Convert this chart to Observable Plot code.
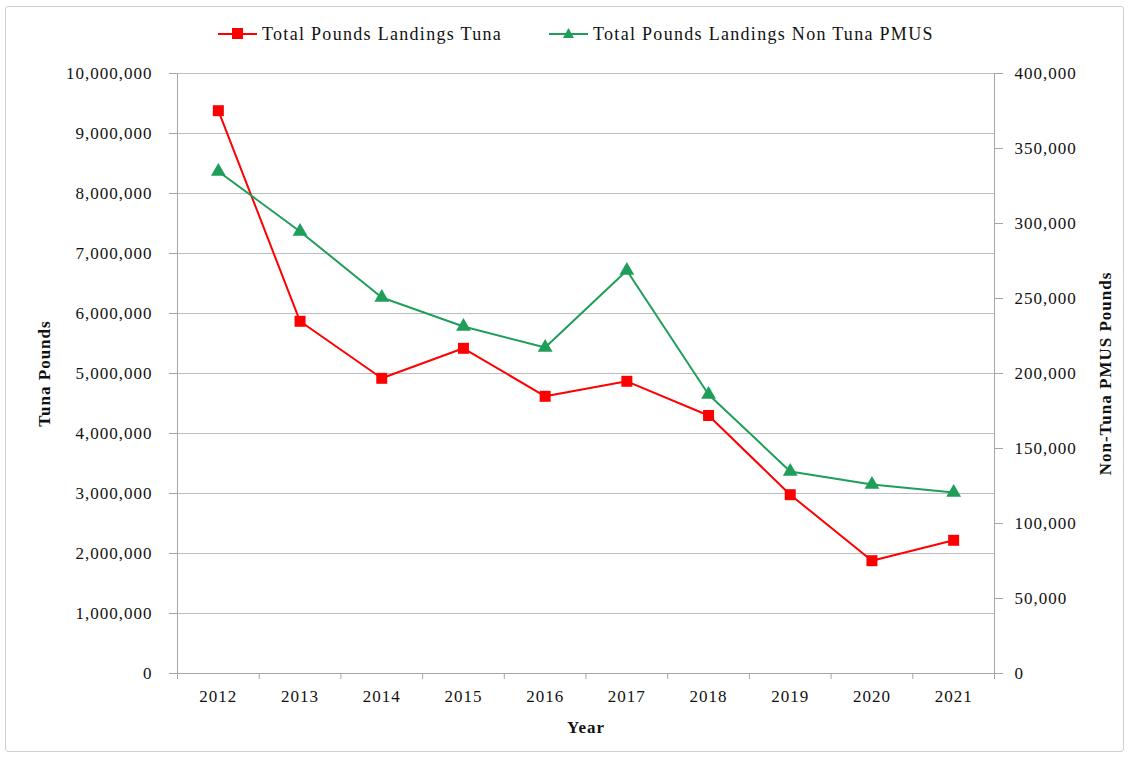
<!DOCTYPE html>
<html>
<head>
<meta charset="utf-8">
<script src="https://cdn.jsdelivr.net/npm/d3@7"></script>
<script src="https://cdn.jsdelivr.net/npm/@observablehq/plot@0.6"></script>
<style>
  html, body { margin: 0; padding: 0; background: #fff; }
  #wrap { position: relative; width: 1130px; height: 757px; overflow: hidden; background: #fff; }
  #border { position: absolute; left: 5px; top: 6px; width: 1119px; height: 746px; border: 1px solid #cfcfcf; border-radius: 3px; box-sizing: border-box; }
  #legend { position: absolute; left: 0; top: 0; width: 1130px; height: 50px; font-family: "Liberation Serif", serif; font-size: 18px; letter-spacing: 1.3px; color: #111; }
  .item { position: absolute; top: 24px; display: flex; align-items: center; height: 20px; white-space: nowrap; }
  .item svg { margin-right: 4px; }
  #chart { position: absolute; left: 0; top: 50px; }
  #chart svg text { letter-spacing: 1px; }
  g[aria-label$="axis label"] text { font-weight: bold; }
</style>
</head>
<body>
<div id="wrap">
  <div id="border"></div>
  <div id="legend"></div>
  <div id="chart"></div>
</div>
<script>
// ---- data ----
const years = [2012, 2013, 2014, 2015, 2016, 2017, 2018, 2019, 2020, 2021];
const tunaPounds = [9380000, 5870000, 4920000, 5420000, 4620000, 4870000, 4300000, 2980000, 1880000, 2220000];
const nonTunaPounds = [334700, 294700, 250700, 231300, 217300, 268700, 186000, 134700, 126000, 120700];
const leftTicks = [0, 1000000, 2000000, 3000000, 4000000, 5000000, 6000000, 7000000, 8000000, 9000000, 10000000];
const rightTicks = [0, 50000, 100000, 150000, 200000, 250000, 300000, 350000, 400000];
const seriesNames = ["Total Pounds Landings Tuna", "Total Pounds Landings Non Tuna PMUS"];
const colors = ["#ff0000", "#1f9e5a"];

const leftMax = 10000000, rightMax = 400000;
const ratio = leftMax / rightMax;

const tunaData = years.map((y, i) => ({year: y, value: tunaPounds[i]}));
const nonTunaData = years.map((y, i) => ({year: y, value: nonTunaPounds[i] * ratio}));
const boundaries = d3.range(years.length + 1).map(i => years[0] - 0.5 + i);
const fmt = d3.format(",");

// ---- legend ----
const legend = document.getElementById("legend");
const legendX = [218, 549];
seriesNames.forEach((name, i) => {
  const div = document.createElement("div");
  div.className = "item";
  div.style.left = legendX[i] + "px";
  const marker = i === 0
    ? `<rect x="14" y="4" width="11" height="11" fill="${colors[i]}"/>`
    : `<path d="M19.5,4 L25,14 L14,14 Z" fill="${colors[i]}"/>`;
  div.innerHTML = `<svg width="40" height="20"><line x1="0" x2="39" y1="10" y2="10" stroke="${colors[i]}" stroke-width="2"/>${marker}</svg><span>${name}</span>`;
  legend.appendChild(div);
});

// ---- chart ----
const chart = Plot.plot({
  width: 1130,
  height: 707,
  marginTop: 23,
  marginBottom: 84,
  marginLeft: 177,
  marginRight: 136,
  style: {fontFamily: "Liberation Serif, serif", fontSize: "17px", color: "#111", background: "transparent"},
  x: {type: "linear", domain: [years[0] - 0.5, years[years.length - 1] + 0.5]},
  y: {domain: [0, leftMax]},
  marks: [
    Plot.gridY(leftTicks, {stroke: "#bdbdbd", strokeOpacity: 1}),
    Plot.ruleX([boundaries[0], boundaries[boundaries.length - 1]], {stroke: "#a6a6a6"}),
    Plot.ruleY([0], {stroke: "#a6a6a6"}),
    Plot.axisY({ticks: leftTicks, tickFormat: fmt, tickSize: 8, tickPadding: 17, stroke: "#a6a6a6",
      label: "Tuna Pounds", labelAnchor: "center", labelArrow: "none", labelOffset: 140}),
    Plot.axisY({anchor: "right", ticks: rightTicks.map(v => v * ratio), tickFormat: d => fmt(Math.round(d / ratio)),
      tickSize: 8, tickPadding: 12, stroke: "#a6a6a6",
      label: "Non-Tuna PMUS Pounds", labelAnchor: "center", labelArrow: "none", labelOffset: 116}),
    Plot.axisX({ticks: boundaries, tickFormat: () => "", tickSize: 6, stroke: "#a6a6a6", label: null}),
    Plot.axisX({ticks: years, tickFormat: d => String(d), tickSize: 0, tickPadding: 16,
      label: "Year", labelAnchor: "center", labelArrow: "none", labelOffset: 59}),
    Plot.line(tunaData, {x: "year", y: "value", stroke: colors[0], strokeWidth: 2}),
    Plot.dot(tunaData, {x: "year", y: "value", symbol: "square", r: 6.2, fill: colors[0], stroke: "none"}),
    Plot.line(nonTunaData, {x: "year", y: "value", stroke: colors[1], strokeWidth: 2}),
    Plot.dot(nonTunaData, {x: "year", y: "value", symbol: "triangle", r: 5.5, fill: colors[1], stroke: "none"})
  ]
});
document.getElementById("chart").appendChild(chart);
</script>
</body>
</html>
